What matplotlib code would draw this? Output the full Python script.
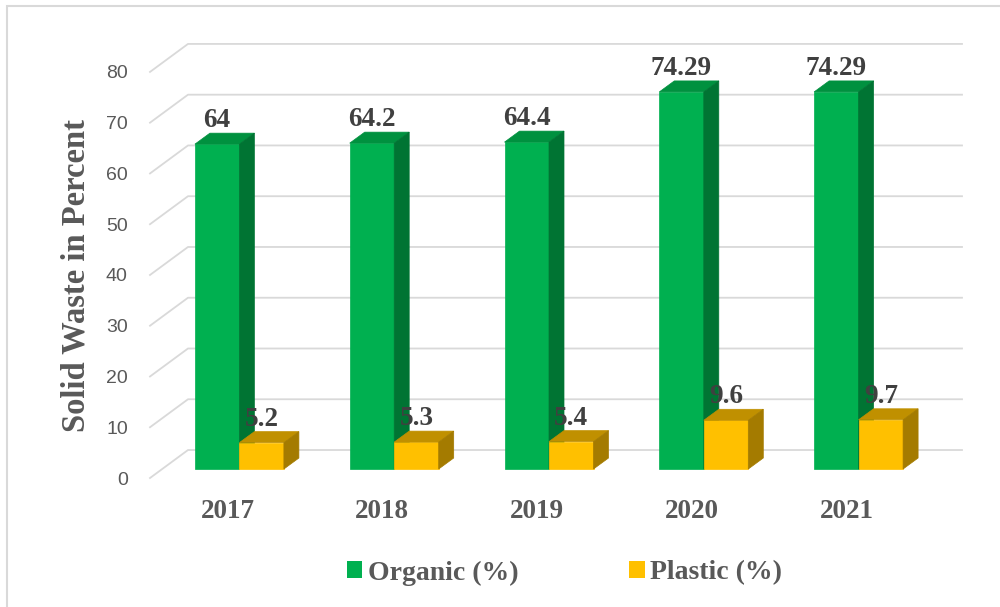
import matplotlib
matplotlib.use("Agg")
import matplotlib.pyplot as plt
from matplotlib.patches import Polygon, Rectangle

years = ["2017", "2018", "2019", "2020", "2021"]
organic = [64, 64.2, 64.4, 74.29, 74.29]
plastic = [5.2, 5.3, 5.4, 9.6, 9.7]
series = [("Organic (%)", organic), ("Plastic (%)", plastic)]

# face colours: front, top, side
colors = {
    "Organic (%)": ("#00b050", "#00913f", "#007433"),
    "Plastic (%)": ("#ffc000", "#c09000", "#a47b00"),
}

W, H = 1000, 607
fig = plt.figure(figsize=(W / 100, H / 100), dpi=100)
ax = fig.add_axes([0.150, 0.2125, 0.774, 0.669])
ax.set_xlim(-0.5, len(years) - 0.5)
ax.set_ylim(0, 80)

# pixel -> data conversion for the fake 3d depth
ux = 0.774 * W / len(years)
uy = 0.669 * H / 80

wall_dx, wall_dy = 38, 28
front_dx, front_dy = 12, 9
back_dx, back_dy = 27, 20
bw = 44.5 / ux

grid_c = "#d9d9d9"
for v in range(0, 81, 10):
    x0 = -0.5
    ax.plot([x0, x0 + wall_dx / ux, len(years) - 0.5 + wall_dx / ux],
            [v, v + wall_dy / uy, v + wall_dy / uy],
            color=grid_c, lw=1.3, clip_on=False, zorder=1)


def bar3d(x0, v, cols):
    fx, fy = front_dx / ux, front_dy / uy
    bx, by = back_dx / ux, back_dy / uy
    front = [(x0 + fx, fy), (x0 + bw + fx, fy), (x0 + bw + fx, v + fy), (x0 + fx, v + fy)]
    top = [(x0 + fx, v + fy), (x0 + bw + fx, v + fy), (x0 + bw + bx, v + by), (x0 + bx, v + by)]
    side = [(x0 + bw + fx, fy), (x0 + bw + bx, by), (x0 + bw + bx, v + by), (x0 + bw + fx, v + fy)]
    for pts, c in zip([front, top, side], cols):
        ax.add_patch(Polygon(pts, closed=True, fc=c, ec=c, lw=0.5, clip_on=False, zorder=3))


for i in range(len(years)):
    for k, (name, vals) in enumerate(series):
        x0 = i - bw + k * bw
        bar3d(x0, vals[i], colors[name])

for i in range(len(years)):
    for k, (name, vals) in enumerate(series):
        xc = i - bw / 2 + k * bw
        ax.annotate(f"{vals[i]:g}", xy=(xc, vals[i]),
                    xytext=(front_dx * 0.72, (front_dy + 17) * 0.72),
                    textcoords="offset points", ha="center", va="baseline",
                    fontsize=19.5, fontweight="bold", family="Liberation Serif",
                    color="#404040", zorder=5)

for s in ax.spines.values():
    s.set_visible(False)
ax.set_yticks(range(0, 81, 10))
ax.set_yticklabels([str(t) for t in range(0, 81, 10)], fontsize=14,
                   family="Liberation Sans", color="#595959")
ax.set_xticks(range(len(years)))
ax.set_xticklabels(years, fontsize=19.5, fontweight="bold",
                   family="Liberation Serif", color="#595959")
ax.tick_params(axis="y", length=0, pad=16)
ax.tick_params(axis="x", length=0, pad=15)
ax.set_facecolor("none")

fig.text(0.076, 1 - 276 / H, "Solid Waste in Percent", rotation=90,
         ha="center", va="center", fontsize=23.5, fontweight="bold",
         family="Liberation Serif", color="#595959")

handles = [Rectangle((0, 0), 1, 1, fc=colors[n][0], ec="none") for n, _ in series]
fig.legend(handles, [n for n, _ in series], loc="center",
           bbox_to_anchor=(0.5645, 1 - 573 / H), ncol=2, frameon=False,
           handlelength=0.55, handleheight=0.55, handletextpad=0.2,
           columnspacing=4.0,
           prop={"family": "Liberation Serif", "weight": "bold", "size": 20},
           labelcolor="#595959")

# chart border, only the top and left edges fall inside the image
fig.patches.append(Rectangle((7 / W, -10 / H), 1.05, 611 / H,
                             transform=fig.transFigure, fill=False,
                             ec="#d9d9d9", lw=1.5))

fig.savefig("out.png", dpi=100)
